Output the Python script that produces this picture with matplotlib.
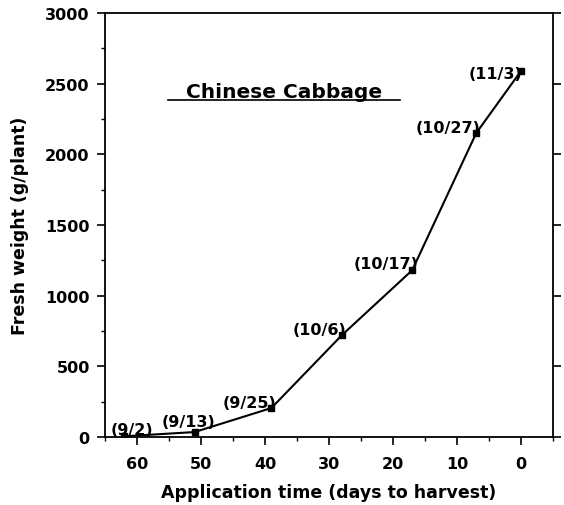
import matplotlib
matplotlib.use("Agg")
import matplotlib.pyplot as plt
from matplotlib.ticker import MultipleLocator

days = [62, 51, 39, 28, 17, 7, 0]
weight = [5, 35, 205, 720, 1180, 2150, 2590]
dates = ["(9/2)", "(9/13)", "(9/25)", "(10/6)", "(10/17)", "(10/27)", "(11/3)"]
label_offsets = [(8, 7), (-6, 11), (-22, 6), (-22, 6), (-26, 7), (-28, 6), (-26, -3)]

plt.rcParams['font.family'] = ['DejaVu Sans']
plt.rcParams['font.weight'] = 'bold'

fig = plt.figure(figsize=(5.64, 5.06), dpi=100)
ax = fig.add_axes([105/564, 1-438/506, (553-105)/564, (438-14)/506])

ax.plot(days, weight, color='black', lw=1.5, marker='s', ms=5, mec='black', mfc='black')
for d, w, t, off in zip(days, weight, dates, label_offsets):
    ax.annotate(t, (d, w), xytext=off, textcoords='offset pixels',
                ha='center', va='center', fontsize=11.5, fontweight='bold')

ax.set_xlim(65, -5)
ax.set_ylim(0, 3000)
ax.xaxis.set_major_locator(MultipleLocator(10))
ax.xaxis.set_minor_locator(MultipleLocator(5))
ax.yaxis.set_major_locator(MultipleLocator(500))
ax.yaxis.set_minor_locator(MultipleLocator(250))
ax.set_xticks([60, 50, 40, 30, 20, 10, 0])
ax.tick_params(axis='both', which='major', direction='out', length=6, width=1.2, labelsize=11.5)
ax.tick_params(axis='x', which='major', pad=8)
ax.tick_params(axis='y', which='major', pad=5)
ax.tick_params(axis='both', which='minor', direction='out', length=3, width=1.0)
ax.tick_params(axis='y', which='major', right=True)
ax.tick_params(axis='y', which='minor', right=False)
ax.tick_params(axis='x', top=False, which='both')
for lab in ax.get_xticklabels() + ax.get_yticklabels():
    lab.set_fontweight('bold')
for s in ax.spines.values():
    s.set_linewidth(1.3)

ax.set_xlabel("Application time (days to harvest)", fontsize=12.5, fontweight='bold', labelpad=8)
ax.set_ylabel("Fresh weight (g/plant)", fontsize=12.5, fontweight='bold', labelpad=12)

t = ax.text((168+400)/2/564, 1-92/506, "Chinese Cabbage", transform=fig.transFigure,
            ha='center', va='center', fontsize=14.5, fontweight='bold')
fig.add_artist(plt.Line2D([168/564, 400/564], [1-101/506, 1-101/506], color='black', lw=1.2,
                          transform=fig.transFigure))

fig.savefig("out.png", dpi=100)
